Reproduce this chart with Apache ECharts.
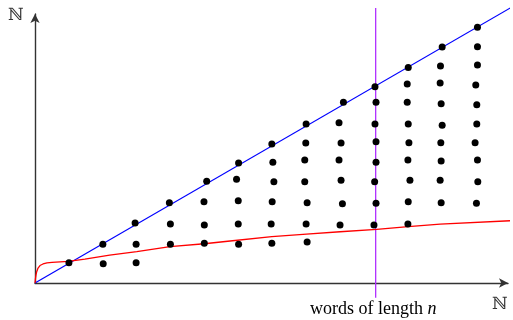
<!DOCTYPE html>
<html>
<head>
<meta charset="utf-8">
<script src="https://cdn.jsdelivr.net/npm/echarts@6/dist/echarts.min.js"></script>
<style>html,body{margin:0;padding:0;background:#fff;}#c{width:513px;height:320px;}</style>
</head>
<body>
<div id="c"></div>
<script>
// Lattice points (word length, value)
const dots = [
  [1.00,1.03],
  [2.00,1.97],[2.01,0.98],
  [2.95,3.05],[2.98,1.97],[2.98,1.03],
  [3.96,4.09],[3.99,3.00],[3.99,1.97],
  [5.06,5.18],[4.98,4.14],[4.99,2.95],[4.99,2.02],
  [6.00,6.11],[5.94,5.28],[5.99,4.19],[5.99,3.00],[6.00,1.97],
  [6.98,7.08],[7.01,6.15],[7.04,5.16],[6.99,4.14],[6.96,3.00],[6.98,2.02],
  [7.99,8.10],[7.98,7.13],[7.95,6.26],[7.95,5.16],[8.02,4.09],[7.99,3.00],[8.02,2.09],
  [9.09,9.20],[8.96,8.16],[9.02,7.13],[8.96,6.26],[9.02,5.23],[9.06,4.04],[8.99,2.95],
  [10.02,9.99],[10.05,9.20],[10.02,8.10],[10.05,7.19],[10.05,6.15],[10.01,5.16],[10.05,4.06],[9.99,2.95],
  [11.00,10.98],[10.97,10.13],[10.97,9.20],[11.00,8.10],[11.02,7.14],[10.99,6.26],[11.05,5.23],[11.00,4.14],[10.99,3.00],
  [12.00,12.02],[11.95,11.05],[11.94,10.18],[11.97,9.13],[12.00,8.04],[11.96,7.14],[11.97,6.21],[11.94,5.23],[11.97,4.09],
  [13.04,13.02],[13.04,12.03],[13.04,11.10],[12.99,10.08],[13.02,9.08],[13.02,8.10],[12.97,7.14],[13.04,6.26],[13.05,5.16],[13.01,4.06]
];
// Upper bound (blue diagonal)
const upperLine = [[0,0],[14.1,14.1]];
// Lower bound (red curve)
const lowerCurve = [
  [0,0],[0.015,0.25],[0.03,0.41],[0.05,0.575],[0.09,0.76],[0.147,0.89],[0.236,0.97],[0.354,1.02],
  [0.50,1.05],[0.98,1.10],[1.47,1.22],[2.2,1.42],
  [3.0,1.60],[3.98,1.85],[4.99,2.00],[5.75,2.14],[6.98,2.36],[8.0,2.49],[8.99,2.61],
  [10.07,2.73],[11.0,2.87],[11.94,3.0],[14.0,3.17]
];
// Vertical marker at n
const nMarker = [[10.04,-0.75],[10.04,14.0]];
const xAxisLabel = 'ℕ';
const yAxisLabel = 'ℕ';

const chart = echarts.init(document.getElementById('c'), null, {renderer:'canvas'});
const axisLine = {show:true, onZero:false, symbol:['none','arrow'], symbolSize:[7,9], lineStyle:{color:'#333', width:1.4}};
chart.setOption({
  animation:false,
  grid:{left:35, right:5, top:14, bottom:37},
  xAxis:{type:'value', min:0, max:13.94, axisLine:axisLine, axisTick:{show:false}, axisLabel:{show:false}, splitLine:{show:false}},
  yAxis:{type:'value', min:0, max:13.7, axisLine:axisLine, axisTick:{show:false}, axisLabel:{show:false}, splitLine:{show:false}},
  series:[
    {type:'line', data:upperLine, clip:false, showSymbol:false, symbol:'none', lineStyle:{color:'#0000ff', width:1.2}, z:2},
    {type:'line', data:lowerCurve, clip:false, showSymbol:false, symbol:'none', smooth:false, lineStyle:{color:'#ff0000', width:1.3}, z:2},
    {type:'line', data:nMarker, clip:false, showSymbol:false, symbol:'none', lineStyle:{color:'#b030ff', width:1.3}, z:1},
    {type:'scatter', data:dots, symbol:'circle', symbolSize:7, itemStyle:{color:'#000', opacity:1}, z:3}
  ],
  graphic:[
    {type:'text', left:8, top:7, style:{text:yAxisLabel, font:'17px "DejaVu Serif"', fill:'#333'}},
    {type:'text', left:492, top:296, style:{text:xAxisLabel, font:'17px "DejaVu Serif"', fill:'#333'}},
    {type:'text', left:310, top:300, style:{
      text:'{a|words of length }{b|n}',
      rich:{a:{fontFamily:'Liberation Serif', fontSize:18, color:'#333'}, b:{fontFamily:'Liberation Serif', fontSize:18, fontStyle:'italic', color:'#333'}}
    }}
  ]
});
</script>
</body>
</html>
